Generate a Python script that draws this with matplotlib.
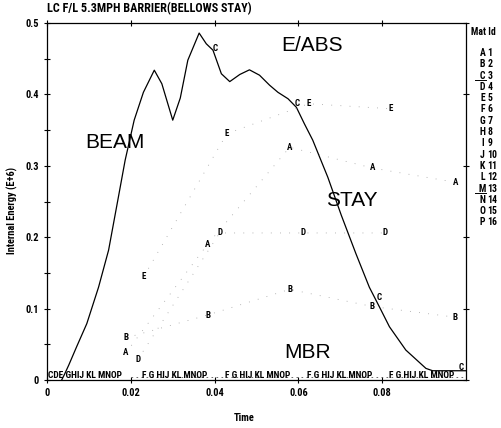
import matplotlib
matplotlib.use("Agg")
import matplotlib.pyplot as plt
from matplotlib.lines import Line2D

FONT = ['Roboto Condensed', 'Archivo Narrow', 'DejaVu Sans']
plt.rcParams['font.family'] = FONT

# main curve
t_main = [0.0035, 0.0041, 0.0052, 0.0071, 0.0095, 0.0123, 0.0147, 0.0169, 0.01865, 0.0208,
          0.0230, 0.0256, 0.0274, 0.0300, 0.0318, 0.0336, 0.0363, 0.0380, 0.0396, 0.0416,
          0.0436, 0.0460, 0.0483, 0.0507, 0.0531, 0.0551, 0.0575, 0.0595, 0.0614, 0.0634,
          0.0670, 0.0702, 0.0737, 0.0769, 0.0793, 0.0817, 0.0856, 0.0904, 0.0920, 0.1]
e_main = [0.0, 0.007, 0.021, 0.047, 0.079, 0.130, 0.182, 0.252, 0.308, 0.364,
          0.403, 0.434, 0.415, 0.364, 0.395, 0.448, 0.486, 0.471, 0.462, 0.429,
          0.418, 0.428, 0.4345, 0.427, 0.413, 0.403, 0.394, 0.382, 0.359, 0.336,
          0.284, 0.231, 0.177, 0.130, 0.1025, 0.0746, 0.042, 0.0163, 0.013, 0.013]

# component curves (faint dotted) with their marker letters
t_A = [0.0188, 0.0383, 0.0579, 0.0776, 0.0974]
e_A = [0.038, 0.190, 0.326, 0.297, 0.277]
t_B = [0.0188, 0.0383, 0.0579, 0.0776, 0.0974]
e_B = [0.059, 0.091, 0.127, 0.103, 0.088]
t_D = [0.0217, 0.0412, 0.0610, 0.0807]
e_D = [0.029, 0.206, 0.206, 0.206]
t_E = [0.0231, 0.0429, 0.0624, 0.0821]
e_E = [0.145, 0.345, 0.387, 0.380]
t_C = [0.0402, 0.0598, 0.0793, 0.0987]
e_C = [0.464, 0.387, 0.115, 0.018]

# zero-energy material groups along the bottom
zero_t = [0.0003, 0.0226, 0.0424, 0.0621, 0.0817]
zero_lbl = ['CDE GHIJ KL MNOP', 'F G HIJ KL MNOP', 'F G HIJ KL MNOP', 'F G HIJ KL MNOP', 'F G HIJ KL MNOP']

part_lbl = ['BEAM', 'E/ABS', 'STAY', 'MBR']
part_t = [0.0162, 0.0633, 0.0726, 0.0621]
part_e = [0.333, 0.469, 0.252, 0.039]

mat_letters = list('ABCDEFGHIJKLMNOP')
mat_ids = list(range(1, 17))

fig = plt.figure(figsize=(5.02, 4.28), dpi=100)
ax = fig.add_axes([0.0936, 0.1121, 0.835, 0.834])

ax.plot(t_main, e_main, color='black', lw=0.9)
for tt, ee in [(t_A, e_A), (t_B, e_B), (t_D, e_D), (t_E, e_E)]:
    ax.plot(tt, ee, color='#a0a0a0', lw=0.6, dashes=(1, 10))
ax.plot([0.02, 0.1], [0.004, 0.004], color='#555555', lw=0.6, dashes=(2, 4))

for lt, tt, ee in [('A', t_A, e_A), ('B', t_B, e_B), ('D', t_D, e_D), ('E', t_E, e_E), ('C', t_C, e_C)]:
    for x, y in zip(tt, ee):
        ax.text(x, y, lt, fontsize=6.5, fontweight='bold', ha='center', va='center')

for x, s in zip(zero_t, zero_lbl):
    ax.text(x, 0.007, s, fontsize=6.8, fontweight='bold', ha='left', va='center')

for s, x, y in zip(part_lbl, part_t, part_e):
    ax.text(x, y, s, fontsize=15, ha='center', va='center', family=['Liberation Sans', 'DejaVu Sans'])

ax.set_xlim(0, 0.1)
ax.set_ylim(0, 0.5)
ax.set_xticks([0, 0.02, 0.04, 0.06, 0.08])
ax.set_xticklabels(['0', '0.02', '0.04', '0.06', '0.08'])
ax.set_yticks([0, 0.1, 0.2, 0.3, 0.4, 0.5])
ax.set_yticklabels(['0', '0.1', '0.2', '0.3', '0.4', '0.5'])
ax.set_yticks([0.05, 0.15, 0.25, 0.35, 0.45], minor=True)
ax.tick_params(axis='both', which='both', direction='inout', labelsize=7.5, width=0.8, length=5)
ax.tick_params(top=True, right=True, which='major')
ax.tick_params(axis='y', which='minor', length=4)
for lab in ax.get_xticklabels() + ax.get_yticklabels():
    lab.set_fontweight('bold')
for sp in ax.spines.values():
    sp.set_linewidth(0.9)

ax.set_ylabel('Internal Energy (E+6)', fontsize=7.5, fontweight='bold', va='center')
ax.yaxis.set_label_coords(-0.083, 0.476)
ax.set_xlabel('Time', fontsize=7.5, fontweight='bold', va='center')
ax.xaxis.set_label_coords(0.471, -0.106)
fig.text(0.0936, 0.965, 'LC F/L 5.3MPH BARRIER(BELLOWS STAY)', fontsize=8.7, fontweight='bold',
         ha='left', va='bottom')

# material id legend on the right
fig.text(0.938, 0.925, 'Mat Id', fontsize=7, fontweight='bold', ha='left', va='center')
for i, (l, n) in enumerate(zip(mat_letters, mat_ids)):
    y = 1 - (53 + i * 11.3) / 428
    fig.text(0.961, y, l, fontsize=7, fontweight='bold', ha='center', va='center')
    fig.text(0.971, y, str(n), fontsize=7, fontweight='bold', ha='left', va='center')
    if l in ('C', 'M'):
        yl = y - 4 / 428
        fig.add_artist(Line2D([0.946, 0.968], [yl, yl], color='black', lw=0.7))

fig.savefig('out.png', dpi=100)
